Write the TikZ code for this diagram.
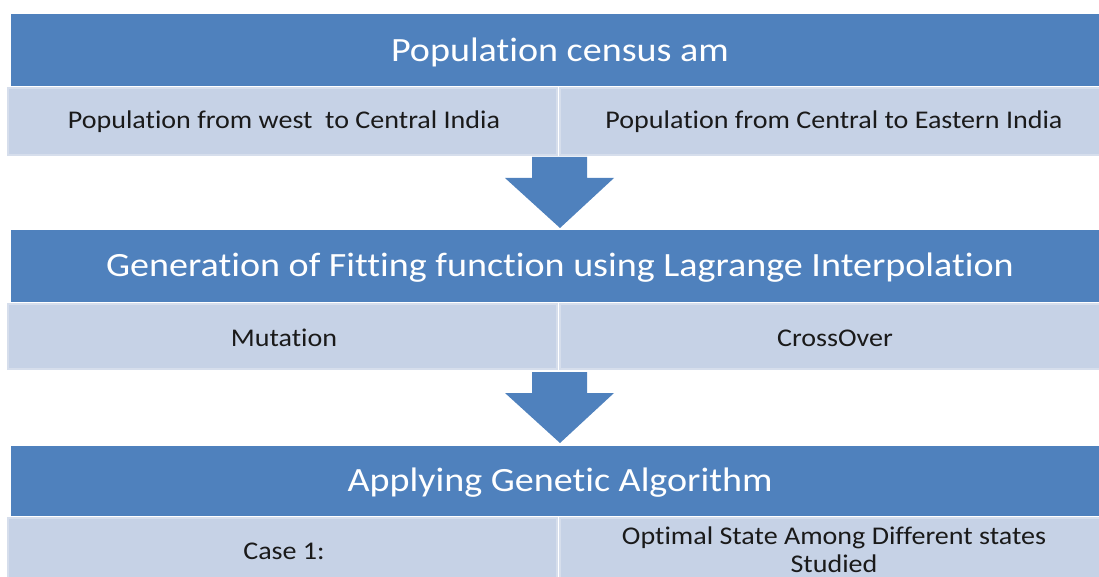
\documentclass[tikz,border=0pt]{standalone}
\usepackage{fontspec}
\setmainfont{Carlito}
\newfontfamily\titlefont[FakeStretch=1.12,RawFeature={-liga;-clig;-calt;-dlig}]{Carlito}
\newfontfamily\cellfont[FakeStretch=1.1,RawFeature={-liga;-clig;-calt;-dlig}]{Carlito}
\definecolor{darkband}{HTML}{4F81BD}
\definecolor{lightcell}{HTML}{C6D2E6}
\definecolor{celledge}{HTML}{D6DEEC}
\definecolor{celltext}{HTML}{1A1A1A}
\begin{document}
\begin{tikzpicture}[x=1pt,y=-1pt,
  band/.style={fill=darkband,draw=none},
  cell/.style={fill=lightcell,draw=celledge,line width=1.5pt},
  titletext/.style={text=white,font=\titlefont\fontsize{34}{38}\selectfont},
  celltxt/.style={text=celltext,font=\cellfont\fontsize{25.5}{28}\selectfont,align=center},
  bigarrow/.style={fill=darkband,draw=none}]
\useasboundingbox (0,0) rectangle (1099,577);
% row 1
\fill[band] (11,14) rectangle (1099,86);
\draw[cell] (8,88) rectangle (557,155);
\draw[cell] (560,88) rectangle (1102,155);
\node[titletext] (t1) at (560,52) {Population census am};
\node[celltxt] (c1l) at (284,122) {Population from west\ \ to Central India};
\node[celltxt] (c1r) at (834,122) {Population from Central to Eastern India};
% arrow 1
\fill[bigarrow] (532,157) -- (587,157) -- (587,178) -- (614,178) -- (560,228) -- (505,178) -- (532,178) -- cycle;
% row 2
\fill[band] (11,230) rectangle (1099,302);
\draw[cell] (8,304) rectangle (557,369);
\draw[cell] (560,304) rectangle (1102,369);
\node[titletext] (t2) at (560,268) {Generation of Fitting function using Lagrange Interpolation};
\node[celltxt] (c2l) at (284,338) {Mutation};
\node[celltxt] (c2r) at (835,338) {CrossOver};
% arrow 2
\fill[bigarrow] (532,372) -- (587,372) -- (587,393) -- (614,393) -- (560,443) -- (505,393) -- (532,393) -- cycle;
% row 3
\fill[band] (11,446) rectangle (1099,516);
\draw[cell] (8,518) rectangle (557,580);
\draw[cell] (560,518) rectangle (1102,580);
\node[titletext] (t3) at (560,483) {Applying Genetic Algorithm};
\node[celltxt] (c3l) at (284,551) {Case 1:};
\node[celltxt] (c3r) at (834,550) {Optimal State Among Different states\\Studied};
\end{tikzpicture}
\end{document}
